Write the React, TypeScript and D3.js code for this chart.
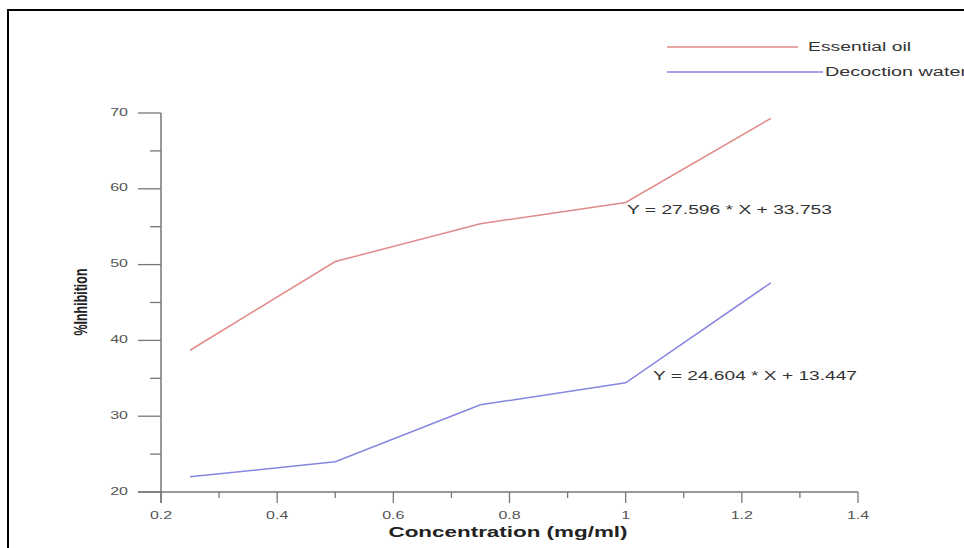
import React from "react";
import * as d3 from "d3";

const concentrations = [0.25, 0.5, 0.75, 1.0, 1.25];
const essentialOil = [38.7, 50.4, 55.4, 58.2, 69.3];
const decoctionWater = [22.0, 24.0, 31.5, 34.4, 47.6];
const seriesNames = ["Essential oil", "Decoction water"];
const equations = ["Y = 27.596 * X + 33.753", "Y = 24.604 * X + 13.447"];
const xMajorTicks = [0.2, 0.4, 0.6, 0.8, 1.0, 1.2, 1.4];
const xMinorTicks = [0.3, 0.5, 0.7, 0.9, 1.1, 1.3];
const yMajorTicks = [20, 30, 40, 50, 60, 70];
const yMinorTicks = [25, 35, 45, 55, 65];

const W = 964;
const H = 548;
const axisColor = "#777";
const textColor = "#333";
const red = "#e08a8a";
const blue = "#8686e0";
const font = "'Liberation Sans', Arial, sans-serif";

export default function App() {
  const x = d3.scaleLinear().domain([0.2, 1.4]).range([161, 858]);
  const y = d3.scaleLinear().domain([20, 70]).range([492, 113]);

  const line = d3
    .line<[number, number]>()
    .x((d) => x(d[0]))
    .y((d) => y(d[1]));

  const oilPts = concentrations.map((c, i) => [c, essentialOil[i]] as [number, number]);
  const waterPts = concentrations.map((c, i) => [c, decoctionWater[i]] as [number, number]);

  const fmt = (v: number) => (v === 1 ? "1" : String(v));

  return (
    <svg
      width={W}
      height={H}
      style={{ position: "absolute", left: 0, top: 0, background: "#fff" }}
      fontFamily={font}
    >
      <rect x={0} y={0} width={W} height={H} fill="#fff" />
      {/* frame */}
      <line x1={8} y1={10} x2={W} y2={10} stroke="#000" strokeWidth={2} />
      <line x1={8} y1={9} x2={8} y2={H} stroke="#000" strokeWidth={2} />

      {/* axes */}
      <line x1={x(0.2)} y1={y(70)} x2={x(0.2)} y2={503} stroke={axisColor} strokeWidth={1.5} />
      <line x1={138} y1={y(20)} x2={x(1.4)} y2={y(20)} stroke={axisColor} strokeWidth={1.5} />

      {yMajorTicks.map((t) => (
        <g key={"ym" + t}>
          <line x1={138} x2={x(0.2)} y1={y(t)} y2={y(t)} stroke={axisColor} strokeWidth={1.3} />
          <text
            transform={`translate(128,${y(t)}) scale(1.6,1)`}
            textAnchor="end"
            dominantBaseline="middle"
            fontSize={10}
            fill="#555"
          >
            {t}
          </text>
        </g>
      ))}
      {yMinorTicks.map((t) => (
        <line key={"yn" + t} x1={150} x2={x(0.2)} y1={y(t)} y2={y(t)} stroke={axisColor} strokeWidth={1.3} />
      ))}

      {xMajorTicks.map((t) => (
        <g key={"xm" + t}>
          <line x1={x(t)} x2={x(t)} y1={y(20)} y2={503} stroke={axisColor} strokeWidth={1.3} />
          <text
            transform={`translate(${x(t)},516) scale(1.6,1)`}
            textAnchor="middle"
            dominantBaseline="middle"
            fontSize={10}
            fill="#555"
          >
            {fmt(t)}
          </text>
        </g>
      ))}
      {xMinorTicks.map((t) => (
        <line key={"xn" + t} x1={x(t)} x2={x(t)} y1={y(20)} y2={498} stroke={axisColor} strokeWidth={1.3} />
      ))}

      {/* axis titles */}
      <text
        x={508}
        y={537}
        textAnchor="middle"
        fontSize={15}
        fontWeight="bold"
        fill="#222"
        textLength={239}
        lengthAdjust="spacingAndGlyphs"
      >
        Concentration (mg/ml)
      </text>
      <text
        transform="translate(87,302) rotate(-90)"
        textAnchor="middle"
        fontSize={19}
        fontWeight="bold"
        fill="#222"
        textLength={67}
        lengthAdjust="spacingAndGlyphs"
      >
        %Inhibition
      </text>

      {/* series */}
      <path d={line(oilPts) || ""} fill="none" stroke={red} strokeWidth={1.5} />
      <path d={line(waterPts) || ""} fill="none" stroke={blue} strokeWidth={1.5} />

      {/* equations */}
      <text
        x={627}
        y={214}
        fontSize={12}
        fill={textColor}
        textLength={205}
        lengthAdjust="spacingAndGlyphs"
      >
        {equations[0]}
      </text>
      <text
        x={653}
        y={380}
        fontSize={12}
        fill={textColor}
        textLength={204}
        lengthAdjust="spacingAndGlyphs"
      >
        {equations[1]}
      </text>

      {/* legend */}
      <line x1={667} x2={798} y1={47} y2={47} stroke={red} strokeWidth={1.5} />
      <text
        x={808}
        y={51}
        fontSize={12}
        fill={textColor}
        textLength={103}
        lengthAdjust="spacingAndGlyphs"
      >
        {seriesNames[0]}
      </text>
      <line x1={667} x2={823} y1={72} y2={72} stroke={blue} strokeWidth={1.5} />
      <text
        x={825}
        y={76}
        fontSize={12}
        fill={textColor}
        textLength={142}
        lengthAdjust="spacingAndGlyphs"
      >
        {seriesNames[1]}
      </text>
    </svg>
  );
}
